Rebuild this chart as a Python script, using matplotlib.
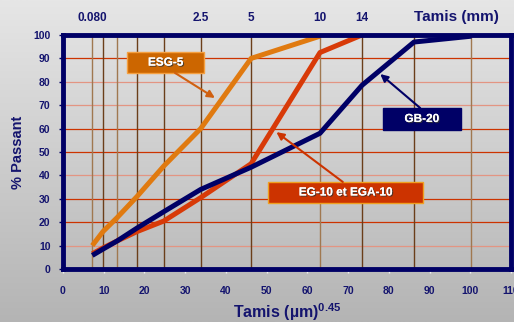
import numpy as np
import matplotlib.pyplot as plt
import matplotlib.patheffects as pe

plt.rcParams["font.family"] = ["Liberation Sans", "DejaVu Sans"]
plt.rcParams["mathtext.fontset"] = "custom"
plt.rcParams["mathtext.rm"] = "Liberation Sans"
plt.rcParams["mathtext.bf"] = "Liberation Sans:bold"

# =========================
# 数据
# =========================

# tamis (mm), lignes verticales du graphique
sieves_mm = [0.08, 0.16, 0.315, 0.63, 1.25, 2.5, 5, 10, 14, 20, 28]
sieve_dark = [False, True, False, True, True, True, True, False, True, True, False]

top_labels = ["0.080", "2.5", "5", "10", "14"]
top_label_mm = [0.08, 2.5, 5, 10, 14]

# % passant
esg5 = [10, 16, 22, 31, 44, 60, 90, 99.5]
eg10 = [6.5, 9, 12, 16, 20.5, 30.5, 45, 92.5, 100]
gb20 = [5.8, 8.5, 12, 17.5, 24.5, 34, 43.5, 58, 78.5, 97, 99.5]

x_ticks = list(range(0, 111, 10))
y_ticks = list(range(0, 101, 10))

navy = "#000066"
text_navy = "#14146e"


def pos(mm):
    return (np.asarray(mm, dtype=float) * 1000) ** 0.45


def main():
    fig = plt.figure(figsize=(5.14, 3.22), dpi=100)

    # fond en dégradé
    bg = fig.add_axes([0, 0, 1, 1], zorder=0)
    grad = np.linspace(0, 1, 256).reshape(-1, 1)
    bg.imshow(grad, aspect="auto", cmap=plt.matplotlib.colors.LinearSegmentedColormap.from_list(
        "g", ["#e6e6e6", "#b4b4b4"]), extent=[0, 1, 0, 1], origin="upper")
    bg.axis("off")

    ax = fig.add_axes([63 / 514, 53 / 322, 448 / 514, 234 / 322], zorder=1)
    ax.patch.set_alpha(0)

    xs = pos(sieves_mm)

    # grille horizontale
    for y in range(10, 100, 10):
        light = y in (80, 70, 40, 10)
        ax.axhline(y, color="#e39583" if light else "#cc3300", lw=0.9, zorder=1)

    # grille verticale (tamis)
    for x, dark in zip(xs, sieve_dark):
        ax.axvline(x, color="#6b3e1a" if dark else "#a07850", lw=1.0, zorder=1)

    # courbes
    ax.plot(xs[:len(esg5)], esg5, color="#e07a10", lw=3.6, zorder=3, solid_capstyle="butt")
    ax.plot(xs[:len(eg10)], eg10, color="#d83a08", lw=3.6, zorder=3, solid_capstyle="butt")
    ax.plot(xs[:len(gb20)], gb20, color=navy, lw=3.6, zorder=4, solid_capstyle="butt")

    ax.set_xlim(0, 110)
    ax.set_ylim(0, 100)

    for s in ax.spines.values():
        s.set_color(navy)
        s.set_linewidth(3.5)
        s.set_zorder(5)

    ax.set_xticks(x_ticks)
    ax.set_yticks(y_ticks)
    ax.tick_params(axis="x", colors="#f0f0f0", length=3, width=1, pad=9,
                   labelcolor=text_navy, labelsize=7.5)
    ax.tick_params(axis="y", colors=navy, length=3, width=1, pad=6,
                   labelcolor=text_navy, labelsize=7.5)
    for lab in ax.get_xticklabels() + ax.get_yticklabels():
        lab.set_fontweight("bold")

    ax.set_ylabel("% Passant", fontsize=10.5, fontweight="bold", color=text_navy, labelpad=6)
    ax.set_xlabel("Tamis (µm)$^{\\mathbf{0.45}}$", fontsize=11.5, fontweight="bold",
                  color=text_navy, labelpad=4)

    # étiquettes du haut
    for lab, mm in zip(top_labels, top_label_mm):
        ax.text(pos(mm), 104.5, lab, ha="center", va="bottom", fontsize=8.5,
                fontweight="bold", color=text_navy, clip_on=False)
    ax.text(96.5, 104.5, "Tamis (mm)", ha="center", va="bottom", fontsize=11,
            fontweight="bold", color=text_navy, clip_on=False)

    shadow = [pe.withSimplePatchShadow(offset=(0.8, -0.8), shadow_rgbFace="#333333", alpha=0.8),
              pe.Normal()]

    # étiquettes des courbes
    def label(text, xy_box, w, h, face, edge, arrow_from, arrow_to, acolor):
        ax.add_patch(plt.Rectangle((xy_box[0] - w / 2, xy_box[1] - h / 2), w, h,
                                   facecolor=face, edgecolor=edge, lw=1.0, zorder=6))
        t = ax.text(xy_box[0], xy_box[1], text, ha="center", va="center", fontsize=8.5,
                    fontweight="bold", color="white", zorder=7)
        t.set_path_effects(shadow)
        ax.annotate("", xy=arrow_to, xytext=arrow_from,
                    arrowprops=dict(arrowstyle="-|>", color=acolor, lw=1.5,
                                    mutation_scale=11, shrinkA=0, shrinkB=0),
                    zorder=6)

    label("ESG-5", (25.2, 88.2), 18.9, 9.0, "#cc6600", "#f5a040",
          (27.5, 83.8), (37.3, 73.1), "#d06010")
    label("GB-20", (88.1, 64.1), 19.1, 9.4, navy, navy,
          (87.7, 68.8), (77.9, 83.3), navy)
    label("EG-10 et EGA-10", (69.4, 32.7), 38.1, 9.0, "#cc3300", "#f0a020",
          (68.7, 37.2), (52.4, 58.5), "#cc3300")

    fig.savefig("out.png", dpi=100)
    plt.close(fig)


if __name__ == "__main__":
    main()
